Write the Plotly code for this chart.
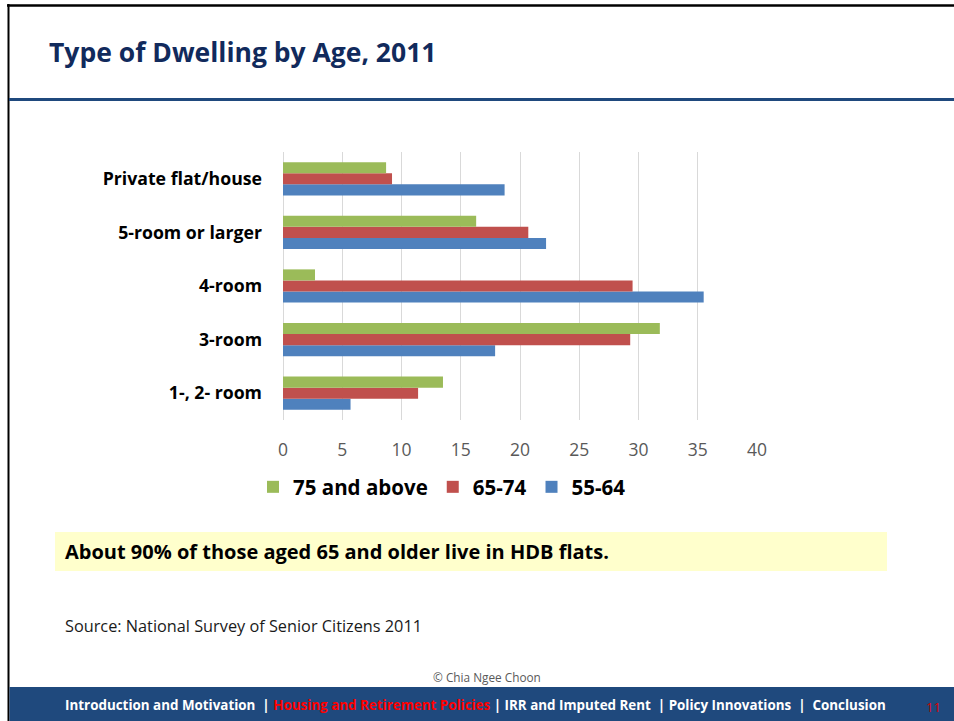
import plotly.graph_objects as go

categories = ["1-, 2- room", "3-room", "4-room", "5-room or larger", "Private flat/house"]
age_55_64 = [5.7, 17.9, 35.5, 22.2, 18.7]
age_65_74 = [11.4, 29.3, 29.5, 20.7, 9.2]
age_75_up = [13.5, 31.8, 2.7, 16.3, 8.7]
x_ticks = [0, 5, 10, 15, 20, 25, 30, 35, 40]

FONT = "Open Sans, sans-serif"
W, H = 954, 721
L, R, T, B = 283, 757, 152, 420


def px(x):
    return (x - L) / (R - L)


def py(y):
    return (B - y) / (B - T)


fig = go.Figure()
fig.add_trace(go.Bar(y=categories, x=age_55_64, name="55-64", orientation="h",
                     marker=dict(color="#4f81bd", line=dict(width=0))))
fig.add_trace(go.Bar(y=categories, x=age_65_74, name="65-74", orientation="h",
                     marker=dict(color="#c0504d", line=dict(width=0))))
fig.add_trace(go.Bar(y=categories, x=age_75_up, name="75 and above", orientation="h",
                     marker=dict(color="#9bbb59", line=dict(width=0))))

shapes = [
    # slide borders
    dict(type="line", x0=px(7), x1=px(954), y0=py(5.5), y1=py(5.5),
         line=dict(color="black", width=2.5)),
    dict(type="line", x0=px(8.5), x1=px(8.5), y0=py(4), y1=py(721),
         line=dict(color="black", width=2)),
    # header rule
    dict(type="line", x0=px(9), x1=px(954), y0=py(99.5), y1=py(99.5),
         line=dict(color="#1f497d", width=3)),
    # yellow highlight box
    dict(type="rect", x0=px(55), x1=px(887), y0=py(532), y1=py(571),
         fillcolor="#ffffcc", line=dict(width=0)),
    # footer bar
    dict(type="rect", x0=px(9.5), x1=px(954), y0=py(687), y1=py(721),
         fillcolor="#1f497d", line=dict(width=0)),
]
for s in shapes:
    s.update(xref="paper", yref="paper", layer="above")

annotations = [
    dict(text="<b>Type of Dwelling by Age, 2011</b>", x=px(47), y=py(52),
         xanchor="left", yanchor="middle", font=dict(size=26.5, color="#112a5c", family=FONT)),
    dict(text="<b>About 90% of those aged 65 and older live in HDB flats.</b>", x=px(63), y=py(551.5),
         xanchor="left", yanchor="middle", font=dict(size=20, color="black", family=FONT)),
    dict(text="Source: National Survey of Senior Citizens 2011", x=px(63), y=py(626),
         xanchor="left", yanchor="middle", font=dict(size=16.3, color="#1a1a1a", family=FONT)),
    dict(text="© Chia Ngee Choon", x=px(487), y=py(677),
         xanchor="center", yanchor="middle", font=dict(size=11.8, color="#595959", family=FONT)),
    dict(text="<b>Introduction and Motivation&nbsp; | <span style='color:#ff0000'>Housing and Retirement Policies</span>"
              " | IRR and Imputed Rent&nbsp; | Policy Innovations&nbsp; |&nbsp; Conclusion</b>",
         x=px(63), y=py(705), xanchor="left", yanchor="middle",
         font=dict(size=13.4, color="white", family=FONT)),
    dict(text="11", x=px(933), y=py(707), xanchor="center", yanchor="middle",
         font=dict(size=13, color="#e00000", family=FONT)),
]
for a in annotations:
    a.update(xref="paper", yref="paper", showarrow=False)

fig.update_layout(
    width=W, height=H,
    margin=dict(l=L, r=W - R, t=T, b=H - B, pad=0, autoexpand=False),
    paper_bgcolor="white", plot_bgcolor="white",
    barmode="group", bargap=0.38, bargroupgap=0,
    font=dict(family=FONT),
    showlegend=True,
    legend=dict(orientation="h", traceorder="reversed",
                xref="container", yref="container",
                x=253 / W, y=1 - 487 / H, xanchor="left", yanchor="middle",
                font=dict(size=20.5, color="black", family=FONT, weight="bold"),
                itemwidth=30, bgcolor="rgba(0,0,0,0)"),
    xaxis=dict(range=[0, 40], tickvals=x_ticks, ticktext=[str(v) for v in x_ticks],
               showgrid=True, gridcolor="#d9d9d9", gridwidth=1,
               zeroline=True, zerolinecolor="#d9d9d9", zerolinewidth=1,
               showline=False, ticks="", ticklabelstandoff=17,
               tickfont=dict(size=17.5, color="#595959", family=FONT), fixedrange=True),
    yaxis=dict(type="category", categoryorder="array", categoryarray=categories,
               showgrid=False, zeroline=False, showline=False, ticks="",
               ticklabelstandoff=20,
               tickfont=dict(size=17.7, color="black", family=FONT, weight="bold"), fixedrange=True),
    shapes=shapes,
    annotations=annotations,
)

fig.write_html("out.html", config={"displayModeBar": False},
               post_script="document.body.style.margin='0px';")
